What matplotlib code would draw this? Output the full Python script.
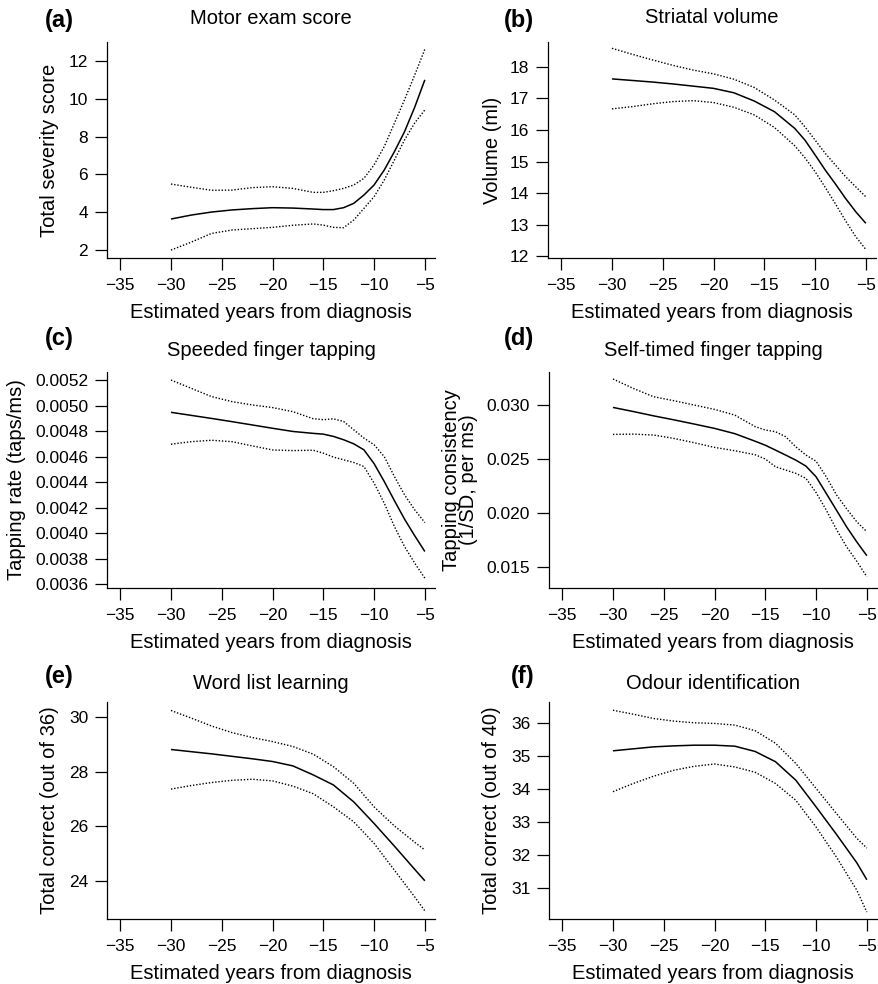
import matplotlib
matplotlib.use("Agg")
import matplotlib.pyplot as plt
from matplotlib.ticker import FormatStrFormatter

plt.rcParams['font.family'] = ['Liberation Sans', 'DejaVu Sans']

# ---------------- data ----------------
x_a = [-30, -28, -26, -24, -22, -20, -18, -16, -15, -14, -13, -12, -11, -10, -9, -8, -7, -6, -5]
mid_a = [3.64, 3.85, 4.01, 4.12, 4.19, 4.24, 4.22, 4.17, 4.14, 4.14, 4.24, 4.47, 4.91, 5.44, 6.23, 7.20, 8.26, 9.55, 11.0]
up_a = [5.49, 5.32, 5.16, 5.17, 5.30, 5.35, 5.26, 5.05, 5.05, 5.14, 5.26, 5.44, 5.79, 6.50, 7.47, 8.70, 9.95, 11.25, 12.62]
lo_a = [2.0, 2.42, 2.88, 3.06, 3.13, 3.20, 3.31, 3.38, 3.32, 3.20, 3.18, 3.59, 4.20, 4.82, 5.70, 6.76, 7.82, 8.72, 9.41]

x_b = [-30, -28, -26, -24, -22, -20, -18, -16, -14, -12, -11, -10, -9, -8, -7, -6, -5]
mid_b = [17.62, 17.57, 17.52, 17.46, 17.39, 17.32, 17.18, 16.92, 16.58, 16.05, 15.68, 15.21, 14.73, 14.29, 13.83, 13.41, 13.04]
up_b = [18.59, 18.40, 18.22, 18.05, 17.90, 17.78, 17.61, 17.35, 16.95, 16.48, 16.10, 15.68, 15.26, 14.89, 14.52, 14.20, 13.88]
lo_b = [16.67, 16.74, 16.83, 16.90, 16.93, 16.87, 16.72, 16.48, 16.08, 15.50, 15.12, 14.68, 14.18, 13.66, 13.12, 12.62, 12.21]

x_c = [-30, -28, -26, -24, -22, -20, -18, -16, -15, -14, -13, -12, -11, -10, -9, -8, -7, -6, -5]
mid_c = [0.004947, 0.004923, 0.004899, 0.004874, 0.004848, 0.004822, 0.004797, 0.004782, 0.004776,
         0.004758, 0.004732, 0.004700, 0.004653, 0.004545, 0.004405, 0.004255, 0.004110, 0.003980, 0.003856]
up_c = [0.005200, 0.005135, 0.005070, 0.005031, 0.005005, 0.004984, 0.004952, 0.004897, 0.004889,
        0.004896, 0.004875, 0.004810, 0.004745, 0.004693, 0.004600, 0.004444, 0.004300, 0.004183, 0.004083]
lo_c = [0.004697, 0.004717, 0.004728, 0.004717, 0.004684, 0.004652, 0.004647, 0.004650, 0.004627,
        0.004596, 0.004575, 0.004554, 0.004522, 0.004392, 0.004235, 0.004052, 0.003895, 0.003765, 0.003647]

x_d = [-30, -28, -26, -24, -22, -20, -18, -16, -15, -14, -13, -12, -11, -10, -9, -8, -7, -6, -5]
mid_d = [0.02978, 0.02940, 0.02900, 0.02863, 0.02824, 0.02784, 0.02735, 0.02665, 0.02628,
         0.02583, 0.02537, 0.02490, 0.02435, 0.02336, 0.02182, 0.02028, 0.01873, 0.01734, 0.01605]
up_d = [0.03241, 0.03154, 0.03077, 0.03040, 0.03000, 0.02960, 0.02907, 0.02800, 0.02769,
        0.02753, 0.02707, 0.02614, 0.02537, 0.02480, 0.02336, 0.02170, 0.02040, 0.01920, 0.01827]
lo_d = [0.02728, 0.02731, 0.02722, 0.02691, 0.02651, 0.02608, 0.02577, 0.02540, 0.02500,
        0.02429, 0.02398, 0.02368, 0.02321, 0.02190, 0.02028, 0.01850, 0.01688, 0.01555, 0.01410]

x_e = [-30, -28, -26, -24, -22, -20, -18, -16, -14, -12, -10, -8, -6, -5]
mid_e = [28.82, 28.74, 28.66, 28.57, 28.48, 28.38, 28.22, 27.89, 27.52, 26.90, 26.11, 25.28, 24.43, 24.01]
up_e = [30.25, 29.97, 29.68, 29.44, 29.26, 29.11, 28.93, 28.65, 28.19, 27.58, 26.72, 26.02, 25.42, 25.14]
lo_e = [27.37, 27.50, 27.61, 27.69, 27.73, 27.67, 27.48, 27.20, 26.72, 26.17, 25.38, 24.40, 23.42, 22.91]

x_f = [-30, -28, -26, -24, -22, -20, -18, -16, -14, -12, -10, -8, -6, -5]
mid_f = [35.17, 35.23, 35.29, 35.32, 35.34, 35.34, 35.31, 35.15, 34.84, 34.28, 33.47, 32.64, 31.78, 31.26]
up_f = [36.40, 36.28, 36.15, 36.07, 36.02, 36.00, 35.95, 35.78, 35.40, 34.79, 34.03, 33.27, 32.52, 32.22]
lo_f = [33.93, 34.18, 34.40, 34.58, 34.70, 34.77, 34.68, 34.52, 34.18, 33.67, 32.86, 31.95, 30.95, 30.28]

letters = ['(a)', '(b)', '(c)', '(d)', '(e)', '(f)']
titles = ['Motor exam score', 'Striatal volume', 'Speeded finger tapping',
          'Self-timed finger tapping', 'Word list learning', 'Odour identification']
ylabels = ['Total severity score', 'Volume (ml)', 'Tapping rate (taps/ms)',
           'Tapping consistency\n(1/SD, per ms)', 'Total correct (out of 36)', 'Total correct (out of 40)']
xlabel = 'Estimated years from diagnosis'
xticks = [-35, -30, -25, -20, -15, -10, -5]
yticks_a = [2, 4, 6, 8, 10, 12]
yticks_b = [12, 13, 14, 15, 16, 17, 18]
yticks_c = [0.0036, 0.0038, 0.0040, 0.0042, 0.0044, 0.0046, 0.0048, 0.0050, 0.0052]
yticks_d = [0.015, 0.020, 0.025, 0.030]
yticks_e = [24, 26, 28, 30]
yticks_f = [31, 32, 33, 34, 35, 36]

# ---------------- layout ----------------
W, H = 879, 984
fig = plt.figure(figsize=(W / 100, H / 100), dpi=100)

def frac_rect(left, top, right, bottom):
    return [left / W, 1 - bottom / H, (right - left) / W, (bottom - top) / H]

rects = [
    frac_rect(107, 42, 435, 258), frac_rect(548, 42, 876, 258),
    frac_rect(107, 372, 435, 588), frac_rect(549, 372, 877, 588),
    frac_rect(107, 702, 435, 919), frac_rect(549, 702, 877, 919),
]
ylims = [(1.58, 13.0), (11.94, 18.79), (0.00357, 0.005263), (0.01306, 0.03306), (22.61, 30.56), (30.07, 36.65)]
ylab_x = [-0.146, -0.140, -0.247, -0.216, -0.146, -0.146]
title_px = [(271, 24), (712, 23), (271, 356), (713, 356), (271, 689), (713, 689)]
letter_px = [(74, 21), (534, 21), (74, 339), (534, 339), (74, 677), (534, 677)]

series = [
    (x_a, mid_a, up_a, lo_a, yticks_a, '%g'),
    (x_b, mid_b, up_b, lo_b, yticks_b, '%g'),
    (x_c, mid_c, up_c, lo_c, yticks_c, '%.4f'),
    (x_d, mid_d, up_d, lo_d, yticks_d, '%.3f'),
    (x_e, mid_e, up_e, lo_e, yticks_e, '%g'),
    (x_f, mid_f, up_f, lo_f, yticks_f, '%g'),
]

for i, (xs, mid, up, lo, yt, fmt) in enumerate(series):
    ax = fig.add_axes(rects[i])
    ax.plot(xs, mid, color='black', lw=1.1, solid_capstyle='butt', solid_joinstyle='round')
    ax.plot(xs, up, color='black', lw=1.0, linestyle=(0, (1.0, 1.3)))
    ax.plot(xs, lo, color='black', lw=1.0, linestyle=(0, (1.0, 1.3)))
    ax.set_xlim(-36.3, -4.0)
    ax.set_ylim(*ylims[i])
    ax.set_xticks(xticks)
    ax.set_yticks(yt)
    ax.yaxis.set_major_formatter(FormatStrFormatter(fmt))
    for s in ['top', 'right']:
        ax.spines[s].set_visible(False)
    for s in ['left', 'bottom']:
        ax.spines[s].set_linewidth(0.9)
    ax.tick_params(direction='out', length=8.5, width=0.9, labelsize=12.5, pad=5, colors='black')
    ax.tick_params(axis='x', pad=6)
    ax.set_xlabel(xlabel, fontsize=14.5, labelpad=7)
    ax.set_ylabel(ylabels[i], fontsize=14.5, linespacing=0.9)
    ax.yaxis.set_label_coords(ylab_x[i], 0.5)
    tx, ty = title_px[i]
    fig.text(tx / W, 1 - ty / H, titles[i], fontsize=14.5, ha='center', va='baseline')
    lx, ly = letter_px[i]
    fig.text(lx / W, 1 - ly / H, letters[i], fontsize=17, fontweight='bold', ha='right', va='center')

fig.savefig('out.png', dpi=100)
